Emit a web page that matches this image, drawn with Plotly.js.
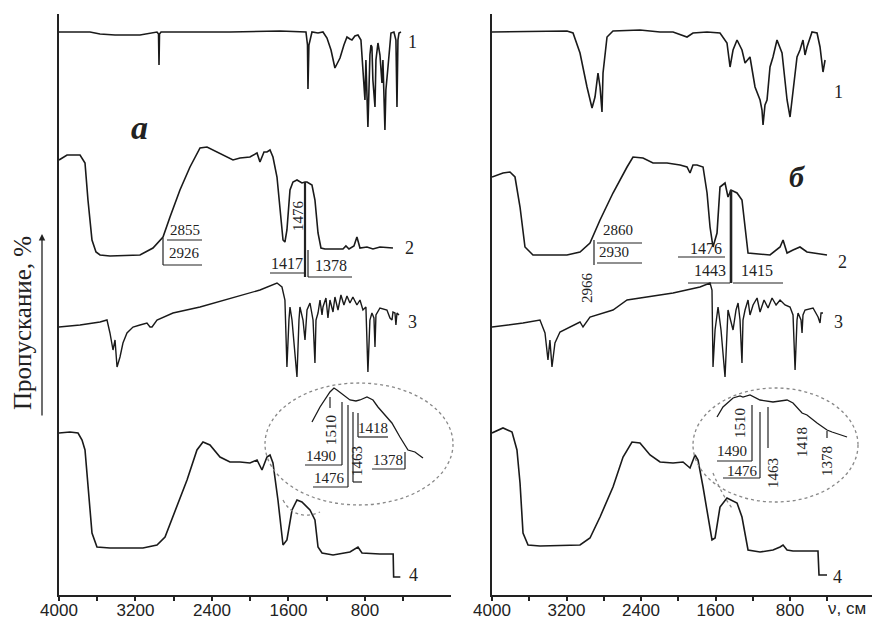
<!DOCTYPE html>
<html><head><meta charset="utf-8">
<script src="https://cdn.plot.ly/plotly-3.0.1.min.js"></script>
<style>html,body{margin:0;padding:0;background:#fff}#chart{width:875px;height:620px}</style>
</head><body><div id="chart"></div>
<script>
// ---- Panel "а": wavenumbers (cm-1) and offset transmittance (arb. units) ----
const a1_wn = [4000,3676,3571,3414,3153,3048,2975,2959,2954,2949,2933,2212,1689,1417,1401,1396,1386,1354,1291,1239,1197,1155,1114,1082,1061,1020,988,957,936,905,873,842,821,800,790,769,748,737,727,717,695,685,664,643,622,612,591,581,559,538,528,497,476,465,455,444,423];
const a1_t  = [563,563,561,560,560,562,563,561,530,561,563,563,564,563,550,506,550,563,562,563,557,545,527,533,537,550,558,556,555,559,560,555,525,495,535,468,540,550,548,515,488,535,552,540,512,535,465,505,528,555,562,563,555,488,555,562,563];
const a2_wn = [4000,3916,3780,3728,3697,3655,3613,3571,3467,3153,3017,2912,2839,2735,2630,2525,2452,2348,2243,2180,2107,2003,1929,1898,1856,1825,1793,1762,1720,1689,1657,1637,1616,1584,1553,1511,1459,1427,1406,1354,1323,1291,1260,1218,1030,999,967,915,884,852,779,716,643,507];
const a2_t  = [435,440,440,432,395,355,343,340,339,340,347,358,378,405,428,447,448,443,438,435,437,438,442,433,443,443,445,438,418,388,355,353,365,405,413,415,412,413,413,410,395,362,347,346,346,349,346,349,358,347,348,346,348,347];
const a3_wn = [4000,3780,3571,3498,3467,3435,3414,3393,3362,3331,3289,3226,3153,3080,3048,3027,2975,2808,2525,2180,1898,1720,1668,1637,1616,1595,1584,1563,1511,1490,1480,1448,1427,1406,1375,1343,1323,1312,1291,1270,1249,1239,1208,1187,1166,1134,1114,1082,1051,1020,988,957,926,884,852,821,790,769,748,727,706,695,685,643,570,538,517,507,486,476,465,444];
const a3_t  = [268,270,273,275,262,245,255,228,238,252,262,268,270,272,268,268,275,282,288,297,305,312,308,295,228,275,288,275,218,275,288,275,255,285,292,275,232,275,282,295,280,288,297,277,295,283,298,285,300,290,299,292,298,290,295,285,288,223,275,282,277,248,280,287,285,277,275,283,282,270,282,280];
const a4_wn = [4000,3885,3801,3759,3728,3697,3655,3603,3467,3122,2975,2891,2808,2661,2557,2494,2421,2316,2212,2107,2003,1929,1877,1825,1793,1762,1710,1657,1616,1563,1511,1459,1375,1323,1291,1249,1134,1030,957,873,831,643,505,500,430];
const a4_t  = [162,163,162,155,145,112,62,48,47,47,50,58,78,115,145,153,150,138,133,133,132,135,125,138,140,132,95,50,55,85,95,93,85,75,48,42,40,42,43,48,42,41,41,18,18];
const aIns_wn = [1354,1270,1166,1124,1093,1030,957,894,852,779,716,664,612,518,434,382,350,277,193];
const aIns_t  = [173,188,203,207,205,200,195,194,195,198,195,188,182,172,158,149,145,143,137];

// ---- Panel "б" ----
const b1_wn = [4000,3195,3130,3055,2980,2926,2894,2862,2840,2819,2808,2765,2701,2411,2196,2056,1906,1842,1691,1552,1477,1444,1412,1369,1316,1283,1230,1176,1122,1101,1090,1069,1047,1015,983,940,886,832,800,768,725,693,661,639,618,564,510,478,446,424];
const b1_t  = [563,564,562,542,508,487,498,522,508,483,522,558,564,565,563,563,558,562,563,562,552,528,545,555,545,532,538,508,495,485,470,490,495,528,538,555,542,495,478,505,538,545,555,540,548,563,562,548,523,535];
const b2_wn = [4000,3882,3807,3753,3699,3646,3560,3195,3055,2948,2840,2701,2550,2486,2379,2271,2121,1981,1906,1874,1842,1799,1734,1691,1659,1627,1584,1552,1498,1466,1434,1369,1316,1283,1251,1015,907,875,832,768,693,618,403];
const b2_t  = [418,422,423,418,388,348,340,340,343,352,375,402,428,438,437,432,432,430,428,422,430,430,428,402,368,348,362,408,412,398,405,402,395,368,342,340,348,355,342,345,348,343,340];
const b3_wn = [4000,3667,3485,3431,3399,3378,3356,3324,3270,3130,3055,3023,2948,2701,2550,2056,1767,1659,1638,1627,1605,1573,1541,1498,1477,1466,1412,1380,1358,1337,1316,1305,1283,1251,1230,1197,1154,1122,1079,1036,993,950,907,854,800,768,746,725,714,682,671,661,639,553,499,478,467,446];
const b3_t  = [268,272,275,262,235,255,228,252,263,270,273,268,278,285,295,302,308,312,305,228,265,288,265,218,265,285,265,285,292,275,232,275,285,295,280,290,297,283,295,287,297,290,295,290,288,280,225,275,282,275,262,280,285,287,278,272,282,282];
const b4_wn = [4000,3882,3785,3732,3699,3667,3613,3485,3055,2948,2840,2701,2593,2497,2411,2303,2196,2056,1949,1874,1820,1788,1734,1681,1638,1605,1552,1477,1369,1316,1283,1251,1122,983,907,875,832,768,500,489,403];
const b4_t  = [162,167,163,145,112,62,50,49,50,57,78,108,138,153,152,140,133,132,133,127,140,135,108,78,55,57,88,97,92,78,62,45,43,45,48,50,45,44,44,20,20];
const bIns_wn = [1584,1520,1412,1337,1305,1230,1122,983,832,768,671,618,510,403,349,188];
const bIns_t  = [178,188,197,199,198,200,195,193,195,192,182,180,172,165,163,158];

const tickVals = [4000,3200,2400,1600,800];
const tickText = ['4000','3200','2400','1600','800'];
const minorVals = [3600,2800,2000,1200,400];

// ---- traces ----
const LC = '#1a1a1a';
function tr(x, y, xa, ya, w) {
  return {x: x, y: y, xaxis: xa, yaxis: ya, mode: 'lines', type: 'scatter',
          line: {color: LC, width: w || 1.6}, hoverinfo: 'skip', showlegend: false};
}
const data = [
  tr(a1_wn, a1_t, 'x', 'y'), tr(a2_wn, a2_t, 'x', 'y'), tr(a3_wn, a3_t, 'x', 'y', 1.4),
  tr(a4_wn, a4_t, 'x', 'y'), tr(aIns_wn, aIns_t, 'x', 'y', 1.3),
  tr(b1_wn, b1_t, 'x2', 'y2'), tr(b2_wn, b2_t, 'x2', 'y2'), tr(b3_wn, b3_t, 'x2', 'y2', 1.4),
  tr(b4_wn, b4_t, 'x2', 'y2'), tr(bIns_wn, bIns_t, 'x2', 'y2', 1.3)
];

// ---- layout helpers (page pixels -> paper fractions) ----
const W = 875, H = 620;
const X = p => p / W, Y = p => 1 - p / H;
const SERIF = 'Liberation Serif, Times New Roman, serif';
const SANS = 'Liberation Sans, Arial, sans-serif';
function T(text, px, py, size, extra) {
  return Object.assign({xref: 'paper', yref: 'paper', x: X(px), y: Y(py), text: text,
    showarrow: false, xanchor: 'center', yanchor: 'middle',
    font: {family: SERIF, size: size || 16, color: '#222'}}, extra || {});
}
function L(x0, y0, x1, y1, w) {
  return {type: 'line', xref: 'paper', yref: 'paper', x0: X(x0), y0: Y(y0), x1: X(x1), y1: Y(y1),
          line: {color: '#222', width: w || 1.2}};
}
function E(x0, y0, x1, y1) {
  return {type: 'circle', xref: 'paper', yref: 'paper', x0: X(x0), y0: Y(y0), x1: X(x1), y1: Y(y1),
          line: {color: '#888', width: 1.3, dash: 'dot'}};
}

const annotations = [
  // axis title + arrow
  T('Пропускание, %', 22, 323, 25, {textangle: -90}),
  {xref: 'paper', yref: 'paper', x: X(42), y: Y(234), ax: 0, ay: 183, text: '', showarrow: true,
   arrowhead: 2, arrowsize: 1, arrowwidth: 1.3, arrowcolor: '#222'},
  T('ν, см', 847, 608, 17, {font: {family: SANS, size: 17, color: '#222'}}),
  // panel letters
  T('<b><i>а</i></b>', 139, 127, 34),
  T('<b><i>б</i></b>', 797, 177, 30),
  // curve numbers, panel а
  T('1', 412, 42, 18), T('2', 409, 248, 18), T('3', 412, 322, 18), T('4', 413, 575, 18),
  // curve numbers, panel б
  T('1', 838, 92, 18), T('2', 842, 262, 18), T('3', 838, 322, 18), T('4', 837, 577, 18),
  // peak labels, panel а
  T('2855', 185, 230, 15), T('2926', 184, 253, 15),
  T('1476', 298, 216, 15, {textangle: -90}),
  T('1417', 287, 263, 16), T('1378', 331, 266, 16),
  T('1510', 331, 430, 15, {textangle: -90}),
  T('1490', 321, 456, 15), T('1476', 329, 478, 15),
  T('1463', 357, 461, 15, {textangle: -90}),
  T('1418', 373, 428, 15), T('1378', 388, 460, 15),
  // peak labels, panel б
  T('2860', 618, 230, 15), T('2930', 614, 252, 15),
  T('2966', 587, 288, 15, {textangle: -90}),
  T('1476', 706, 248, 16), T('1443', 710, 270, 16), T('1415', 757, 270, 16),
  T('1510', 740, 423, 15, {textangle: -90}),
  T('1490', 732, 451, 15), T('1476', 742, 471, 15),
  T('1463', 773, 473, 15, {textangle: -90}),
  T('1418', 802, 442, 15, {textangle: -90}),
  T('1378', 827, 461, 15, {textangle: -90})
];

const shapes = [
  // panel а brackets
  L(167, 240, 202, 240), L(163, 238, 163, 265), L(163, 265, 202, 265),
  L(305, 182, 305, 277, 2.2), L(270, 273, 305, 273), L(308, 250, 308, 277), L(308, 277, 352, 277),
  // panel а inset
  E(265, 383, 453, 505),
  L(330, 397, 330, 408), L(342, 402, 342, 465), L(305, 465, 342, 465),
  L(348, 405, 348, 487), L(313, 487, 348, 487),
  L(353, 412, 353, 482), L(353, 482, 362, 482),
  L(358, 413, 358, 437), L(358, 437, 388, 437),
  L(405, 452, 405, 469), L(372, 469, 405, 469),
  {type: 'path', xref: 'paper', yref: 'paper',
   path: 'M ' + X(283) + ',' + Y(500) + ' Q ' + X(295) + ',' + Y(522) + ' ' + X(320) + ',' + Y(512),
   line: {color: '#888', width: 1.3, dash: 'dot'}},
  // panel б brackets
  L(597, 243, 642, 243), L(594, 240, 594, 265), L(597, 263, 642, 263),
  L(678, 257, 725, 257), L(688, 283, 730, 283), L(733, 283, 783, 283),
  L(731, 190, 731, 283, 2.6),
  // panel б inset
  E(693, 388, 858, 502),
  L(752, 405, 752, 461), L(717, 461, 752, 461),
  L(760, 412, 760, 478), L(723, 478, 760, 478),
  L(768, 407, 768, 448),
  L(827, 431, 827, 438),
  {type: 'path', xref: 'paper', yref: 'paper',
   path: 'M ' + X(713) + ',' + Y(473) + ' Q ' + X(722) + ',' + Y(495) + ' ' + X(732) + ',' + Y(508),
   line: {color: '#888', width: 1.3, dash: 'dot'}}
];

function xAxis(domain, range, anchor) {
  return {domain: domain, range: range, anchor: anchor, showgrid: false, zeroline: false,
    showline: true, linecolor: '#222', linewidth: 2,
    tickmode: 'array', tickvals: tickVals, ticktext: tickText,
    ticks: 'outside', ticklen: 4, tickwidth: 2, tickcolor: '#222', ticklabelstandoff: -5,
    minor: {tickmode: 'array', tickvals: minorVals, ticks: 'outside', ticklen: 4, tickwidth: 2, tickcolor: '#222'},
    tickfont: {family: SANS, size: 17, color: '#222'}, fixedrange: true};
}
function yAxis(anchor) {
  return {domain: [25 / H, 606 / H], range: [0, 581], anchor: anchor, showgrid: false, zeroline: false,
    showline: true, linecolor: '#222', linewidth: 2, ticks: '', showticklabels: false, fixedrange: true};
}

const layout = {
  width: W, height: H, margin: {l: 0, r: 0, t: 0, b: 0},
  paper_bgcolor: '#fff', plot_bgcolor: '#fff', showlegend: false,
  xaxis: xAxis([59 / W, 451 / W], [4000, -100], 'y'),
  yaxis: yAxis('x'),
  xaxis2: xAxis([492 / W, 872 / W], [4000, -80], 'y2'),
  yaxis2: yAxis('x2'),
  annotations: annotations, shapes: shapes
};

Plotly.newPlot('chart', data, layout, {staticPlot: true, displayModeBar: false});
</script>
</body></html>
